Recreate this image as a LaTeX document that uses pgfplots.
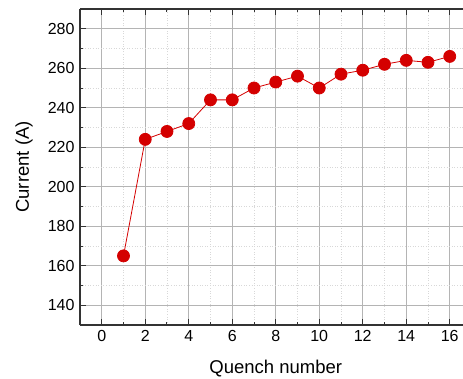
\documentclass[border=0pt]{standalone}
\usepackage{fontspec}
\setmainfont{Liberation Sans}
\usepackage{pgfplots}
\pgfplotsset{compat=1.18}
\definecolor{ptred}{HTML}{D40000}
\definecolor{majgrid}{HTML}{B4B4B4}
\definecolor{mingrid}{HTML}{D8D8D8}
\begin{document}
\begin{tikzpicture}
\begin{axis}[
  at={(0,0)}, anchor=south west,
  scale only axis,
  width=391.5pt, height=316pt,
  xmin=-1, xmax=17, ymin=130, ymax=290,
  axis x line=box, axis y line=left,
  axis line style={-, line width=1.2pt, color=black!80},
  xtick={0,2,...,16}, ytick={140,160,...,280},
  minor x tick num=1, minor y tick num=1,
  tick align=inside,
  major tick length=6pt, minor tick length=3pt,
  tick style={line width=1pt, color=black!80},
  grid=both,
  major grid style={line width=0.8pt, color=majgrid},
  minor grid style={line width=0.6pt, color=mingrid, dotted},
  /pgf/number format/assume math mode=true,
  ticklabel style={font=\fontsize{16}{16}\selectfont},
  xticklabel style={yshift=-2pt},
  yticklabel style={xshift=-2pt},
  xlabel={Quench number}, ylabel={Current (A)},
  label style={font=\fontsize{18.5}{20}\selectfont},
  xlabel style={at={(axis description cs:0.5,0)}, anchor=base, yshift=-48pt},
  ylabel style={at={(axis description cs:0,0.5)}, anchor=center, yshift=56pt},
  clip=false,
]
\addplot[color=ptred, line width=0.8pt, mark=*, mark size=6pt, mark options={fill=ptred, draw=ptred}]
coordinates {
(1,165) (2,224) (3,228) (4,232) (5,244) (6,244) (7,250) (8,253)
(9,256) (10,250) (11,257) (12,259) (13,262) (14,264) (15,263) (16,266)
};
\end{axis}
\pgfresetboundingbox
\useasboundingbox (-80pt,-53pt) rectangle (383pt,325pt);
\end{tikzpicture}
\end{document}
